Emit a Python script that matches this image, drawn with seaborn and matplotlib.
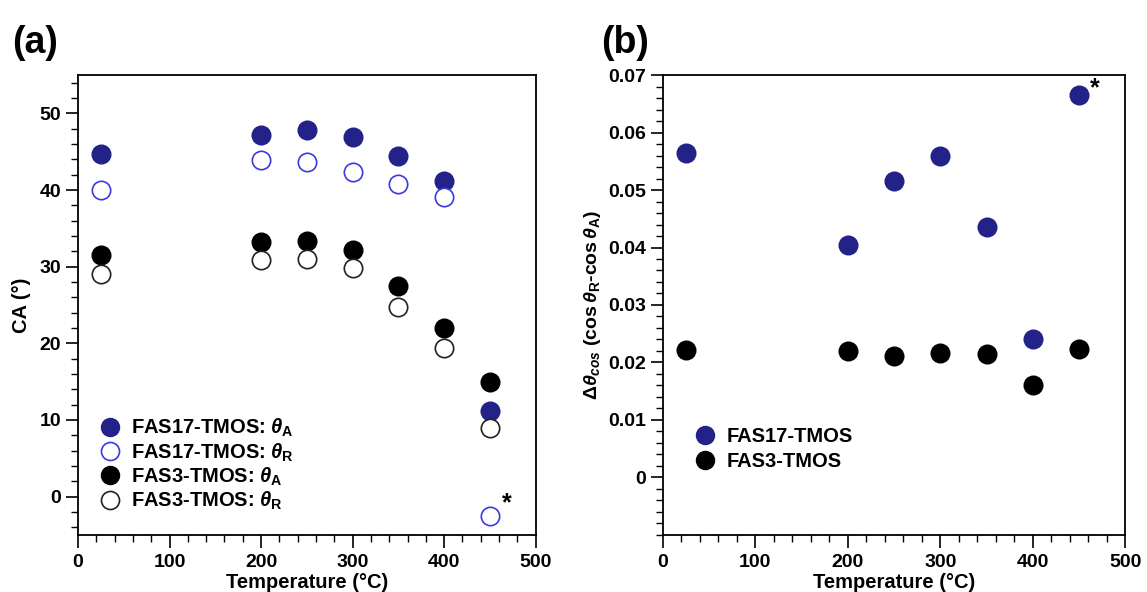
import numpy as np
import pandas as pd
import matplotlib
matplotlib.use("Agg")
import matplotlib.pyplot as plt
import seaborn as sns
from matplotlib.ticker import MultipleLocator
from matplotlib.lines import Line2D

# ---- data ----
temps = [25, 200, 250, 300, 350, 400, 450]
fas17_theta_a = [44.7, 47.2, 47.8, 46.9, 44.5, 41.2, 11.2]
fas17_theta_r = [40.0, 43.9, 43.6, 42.3, 40.8, 39.1, -2.5]
fas3_theta_a = [31.5, 33.2, 33.3, 32.2, 27.5, 22.0, 15.0]
fas3_theta_r = [29.1, 30.9, 31.0, 29.8, 24.7, 19.4, 8.9]

fas17_dcos = [0.0565, 0.0404, 0.0515, 0.0560, 0.0436, 0.0240, 0.0665]
fas3_dcos = [0.0221, 0.0220, 0.0212, 0.0216, 0.0215, 0.0161, 0.0223]

sns.set_theme(style="white")
plt.rcParams['font.family'] = ['Liberation Sans', 'DejaVu Sans']
plt.rcParams['font.weight'] = 'bold'
plt.rcParams['axes.labelweight'] = 'bold'
plt.rcParams['text.color'] = 'black'
plt.rcParams['axes.labelcolor'] = 'black'
plt.rcParams['xtick.color'] = 'black'
plt.rcParams['ytick.color'] = 'black'
plt.rcParams['mathtext.fontset'] = 'custom'
plt.rcParams['mathtext.it'] = 'Liberation Sans:bold:italic'
plt.rcParams['mathtext.rm'] = 'Liberation Sans:bold'
plt.rcParams['mathtext.bf'] = 'Liberation Sans:bold'

NAVY = '#222288'
BLUE = '#3a3ae0'
MS = 175
LMS = 13
TICK_FS = 14
LAB_FS = 14.5
LEG_FS = 14.5

fig = plt.figure(figsize=(11.47, 5.92), dpi=100)
axA = fig.add_axes([0.068, 0.0963, 0.399, 0.777])
axB = fig.add_axes([0.578, 0.0963, 0.403, 0.777])

def style(ax):
    for sp in ax.spines.values():
        sp.set_color('black')
        sp.set_linewidth(1.3)
    ax.tick_params(which='both', direction='out', left=True, bottom=True,
                   top=False, right=False, colors='black', labelcolor='black',
                   labelsize=TICK_FS)
    ax.tick_params(which='major', length=9, width=1.2, pad=3)
    ax.tick_params(axis='x', which='major', pad=5)
    ax.tick_params(which='minor', length=5, width=1.0)
    for lab in ax.get_xticklabels() + ax.get_yticklabels():
        lab.set_fontweight('bold')
    ax.grid(False)

# ---- panel (a) ----
sns.scatterplot(x=temps, y=fas17_theta_a, ax=axA, s=MS, color=NAVY, edgecolor=NAVY, linewidth=1.2, zorder=3)
sns.scatterplot(x=temps, y=fas17_theta_r, ax=axA, s=MS, facecolor='white', edgecolor=BLUE, linewidth=1.2, zorder=4)
sns.scatterplot(x=temps, y=fas3_theta_a, ax=axA, s=MS, color='black', edgecolor='black', linewidth=1.2, zorder=3)
sns.scatterplot(x=temps, y=fas3_theta_r, ax=axA, s=MS, facecolor='white', edgecolor='#222222', linewidth=1.2, zorder=4)
axA.set_xlim(0, 500)
axA.set_ylim(-5, 55)
axA.xaxis.set_major_locator(MultipleLocator(100))
axA.xaxis.set_minor_locator(MultipleLocator(20))
axA.yaxis.set_major_locator(MultipleLocator(10))
axA.yaxis.set_minor_locator(MultipleLocator(2))
axA.set_xlabel('Temperature (°C)', fontsize=LAB_FS, fontweight='bold', labelpad=1, color='black')
axA.set_ylabel('CA (°)', fontsize=LAB_FS, fontweight='bold', color='black', labelpad=6)
style(axA)
axA.text(468, -0.9, '*', fontsize=18, fontweight='bold', ha='center', va='center', color='black')

hA = [
    Line2D([], [], marker='o', ls='none', markersize=LMS, markerfacecolor=NAVY, markeredgecolor=NAVY),
    Line2D([], [], marker='o', ls='none', markersize=LMS, markerfacecolor='white', markeredgecolor=BLUE, markeredgewidth=1.2),
    Line2D([], [], marker='o', ls='none', markersize=LMS, markerfacecolor='black', markeredgecolor='black'),
    Line2D([], [], marker='o', ls='none', markersize=LMS, markerfacecolor='white', markeredgecolor='#222222', markeredgewidth=1.2),
]
labA = [r'FAS17-TMOS: $\theta_{\mathrm{A}}$', r'FAS17-TMOS: $\theta_{\mathrm{R}}$',
        r'FAS3-TMOS: $\theta_{\mathrm{A}}$', r'FAS3-TMOS: $\theta_{\mathrm{R}}$']
axA.legend(hA, labA, loc='lower left', bbox_to_anchor=(-0.005, 0.019), frameon=False,
           prop={'weight': 'bold', 'size': LEG_FS}, handletextpad=0.05, labelspacing=0.1,
           borderpad=0.2, labelcolor='black')

# ---- panel (b) ----
sns.scatterplot(x=temps, y=fas17_dcos, ax=axB, s=MS, color=NAVY, edgecolor=NAVY, linewidth=1.2, zorder=3)
sns.scatterplot(x=temps, y=fas3_dcos, ax=axB, s=MS, color='black', edgecolor='black', linewidth=1.2, zorder=3)
axB.set_xlim(0, 500)
axB.set_ylim(-0.01, 0.07)
axB.xaxis.set_major_locator(MultipleLocator(100))
axB.xaxis.set_minor_locator(MultipleLocator(20))
axB.yaxis.set_minor_locator(MultipleLocator(0.002))
axB.set_yticks([0, 0.01, 0.02, 0.03, 0.04, 0.05, 0.06, 0.07])
axB.set_yticklabels(['0', '0.01', '0.02', '0.03', '0.04', '0.05', '0.06', '0.07'])
axB.set_xlabel('Temperature (°C)', fontsize=LAB_FS, fontweight='bold', labelpad=1, color='black')
axB.set_ylabel(r'$\Delta\theta_{cos}$ (cos$\,\theta_{\mathrm{R}}$-cos$\,\theta_{\mathrm{A}}$)',
               fontsize=LAB_FS - 0.5, fontweight='bold', color='black', labelpad=4)
style(axB)
axB.text(467, 0.0676, '*', fontsize=18, fontweight='bold', ha='center', va='center', color='black')

hB = [
    Line2D([], [], marker='o', ls='none', markersize=LMS, markerfacecolor=NAVY, markeredgecolor=NAVY),
    Line2D([], [], marker='o', ls='none', markersize=LMS, markerfacecolor='black', markeredgecolor='black'),
]
axB.legend(hB, ['FAS17-TMOS', 'FAS3-TMOS'], loc='lower left', bbox_to_anchor=(0.008, 0.1),
           frameon=False, prop={'weight': 'bold', 'size': LEG_FS}, handletextpad=0.1,
           labelspacing=0.3, labelcolor='black')

fig.text(0.011, 0.958, '(a)', fontsize=27, fontweight='bold', va='top', ha='left', color='black')
fig.text(0.524, 0.958, '(b)', fontsize=27, fontweight='bold', va='top', ha='left', color='black')

fig.savefig('out.png', dpi=100, facecolor='white')
